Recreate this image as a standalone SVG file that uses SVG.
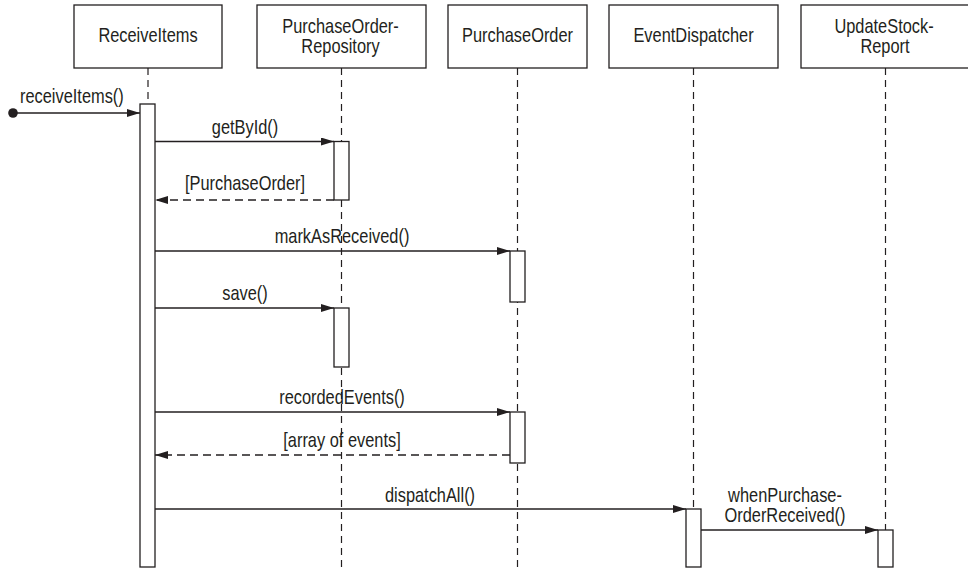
<svg xmlns="http://www.w3.org/2000/svg" width="968" height="569" viewBox="0 0 968 569">
  <style>
    .box { fill: #fff; stroke: #231f20; stroke-width: 1.3; }
    .life { stroke: #231f20; stroke-width: 1.2; stroke-dasharray: 7 5; fill: none; }
    .act { fill: #fff; stroke: #231f20; stroke-width: 1.3; }
    .msg { stroke: #231f20; stroke-width: 1.3; fill: none; }
    .ret { stroke: #231f20; stroke-width: 1.3; fill: none; stroke-dasharray: 8 5; }
    text { font-family: "Liberation Sans", Arial, sans-serif; font-size: 20px; fill: #231f20; }
    .c { text-anchor: middle; }
  </style>
  <defs>
    <marker id="arrow" viewBox="0 0 13 8" refX="13" refY="4" markerWidth="13" markerHeight="8" markerUnits="userSpaceOnUse" orient="auto">
      <path d="M0,0 L13,4 L0,8 Z" fill="#231f20"/>
    </marker>
  </defs>

  <rect width="968" height="569" fill="#fff"/>

  <!-- lifelines -->
  <g id="lifelines">
    <line class="life" x1="148" y1="68" x2="148" y2="567"/>
    <line class="life" x1="341.5" y1="68" x2="341.5" y2="567"/>
    <line class="life" x1="517.5" y1="68" x2="517.5" y2="567"/>
    <line class="life" x1="693.5" y1="68" x2="693.5" y2="567"/>
    <line class="life" x1="885.5" y1="68" x2="885.5" y2="567"/>
  </g>

  <!-- participants; labels use a narrowed sans -->
  <g id="receiveItems">
    <rect class="box" x="74" y="5" width="148" height="63"/>
    <text class="c" transform="translate(148 42) scale(0.82 1)">ReceiveItems</text>
    <rect class="act" x="140" y="104" width="15" height="463"/>
  </g>
  <g id="purchaseOrderRepository">
    <rect class="box" x="257" y="5" width="169" height="63"/>
    <text class="c" transform="translate(340.5 33) scale(0.82 1)">PurchaseOrder-</text>
    <text class="c" transform="translate(340.5 53) scale(0.82 1)">Repository</text>
    <rect class="act" x="334" y="141.5" width="15" height="58.5"/>
    <rect class="act" x="334" y="308" width="15" height="59"/>
  </g>
  <g id="purchaseOrder">
    <rect class="box" x="448" y="5" width="139" height="63"/>
    <text class="c" transform="translate(517.5 42) scale(0.82 1)">PurchaseOrder</text>
    <rect class="act" x="510" y="251" width="15" height="51"/>
    <rect class="act" x="510" y="412" width="15" height="51"/>
  </g>
  <g id="eventDispatcher">
    <rect class="box" x="609" y="5" width="169" height="63"/>
    <text class="c" transform="translate(693.5 42) scale(0.82 1)">EventDispatcher</text>
    <rect class="act" x="686" y="509" width="15" height="58"/>
  </g>
  <g id="updateStockReport">
    <rect class="box" x="801" y="5" width="168" height="63"/>
    <text class="c" transform="translate(884 33) scale(0.82 1)">UpdateStock-</text>
    <text class="c" transform="translate(885 53) scale(0.82 1)">Report</text>
    <rect class="act" x="878" y="530" width="15" height="37"/>
  </g>

  <!-- messages -->
  <g id="connectors">
    <circle cx="13" cy="113" r="4.8" fill="#231f20"/>
    <line class="msg" x1="13" y1="113" x2="140" y2="113" marker-end="url(#arrow)"/>
    <text transform="translate(20 103) scale(0.82 1)">receiveItems()</text>

    <line class="msg" x1="155" y1="141.5" x2="334" y2="141.5" marker-end="url(#arrow)"/>
    <text class="c" transform="translate(245 134) scale(0.82 1)">getById()</text>

    <line class="ret" x1="334" y1="200" x2="155" y2="200" marker-end="url(#arrow)"/>
    <text class="c" transform="translate(245 190) scale(0.82 1)">[PurchaseOrder]</text>

    <line class="msg" x1="155" y1="251" x2="510" y2="251" marker-end="url(#arrow)"/>
    <text class="c" transform="translate(342 243) scale(0.82 1)">markAsReceived()</text>

    <line class="msg" x1="155" y1="308" x2="334" y2="308" marker-end="url(#arrow)"/>
    <text class="c" transform="translate(245 300) scale(0.82 1)">save()</text>

    <line class="msg" x1="155" y1="412" x2="510" y2="412" marker-end="url(#arrow)"/>
    <text class="c" transform="translate(342 404) scale(0.82 1)">recordedEvents()</text>

    <line class="ret" x1="510" y1="455" x2="155" y2="455" marker-end="url(#arrow)"/>
    <text class="c" transform="translate(342 447) scale(0.82 1)">[array of events]</text>

    <line class="msg" x1="155" y1="509" x2="686" y2="509" marker-end="url(#arrow)"/>
    <text class="c" transform="translate(430 502) scale(0.82 1)">dispatchAll()</text>

    <line class="msg" x1="701" y1="530" x2="878" y2="530" marker-end="url(#arrow)"/>
    <text class="c" transform="translate(785 502) scale(0.82 1)">whenPurchase-</text>
    <text class="c" transform="translate(785 522) scale(0.82 1)">OrderReceived()</text>
  </g>
</svg>
